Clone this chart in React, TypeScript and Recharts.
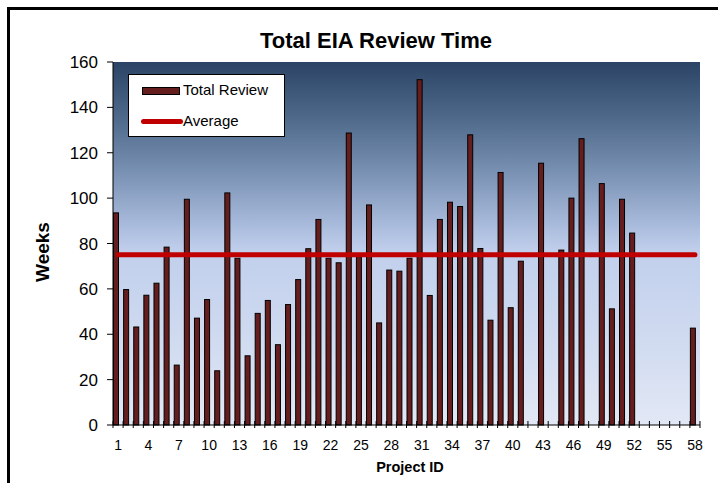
import React from 'react';
import { ComposedChart, Bar, Line, XAxis, YAxis, CartesianGrid } from 'recharts';

const PROJECT_IDS = [
  1, 2, 3, 4, 5, 6, 7, 8, 9, 10, 11, 12, 13, 14, 15, 16, 17, 18, 19, 20,
  21, 22, 23, 24, 25, 26, 27, 28, 29, 30, 31, 32, 33, 34, 35, 36, 37, 38, 39, 40,
  41, 42, 43, 44, 45, 46, 47, 48, 49, 50, 51, 52, 53, 54, 55, 56, 57, 58,
];

// weeks per project, null = no bar
const REVIEW_WEEKS = [
  93.5, 59.7, 43.2, 57.2, 62.5, 78.4, 26.4, 99.5, 47.1, 55.3,
  23.9, 102.3, 73.5, 30.5, 49.2, 54.9, 35.4, 53.1, 64.1, 77.7,
  90.6, 73.5, 71.5, 128.7, 74.2, 97, 45, 68.3, 67.8, 73.5,
  152.2, 57.1, 90.6, 98.2, 96.3, 127.9, 77.8, 46.2, 111.3, 51.7,
  72.2, null, 115.4, null, 77.1, 100, 126.2, null, 106.4, 51.2,
  99.5, 84.6, null, null, null, null, null, 42.7,
];

const AVERAGE_WEEKS = 75;

const Y_TICKS = [0, 20, 40, 60, 80, 100, 120, 140, 160];

const data = PROJECT_IDS.map((id, i) => ({
  id,
  review: REVIEW_WEEKS[i],
  avg: AVERAGE_WEEKS,
}));

const FONT = '"Liberation Sans", Arial, sans-serif';
const PLOT_LEFT = 113;
const PLOT_RIGHT = 700;
const BAND = (PLOT_RIGHT - PLOT_LEFT) / PROJECT_IDS.length;
const BAR_FILL = '#661d1d';
const AVG_COLOR = '#c00000';

const XTick = (props: any) => {
  const { x, y, index, payload } = props;
  const half = BAND / 2;
  return (
    <g>
      {index === 0 && <line x1={x - half} x2={x - half} y1={y - 4} y2={y + 3} stroke="#000" />}
      <line x1={x + half} x2={x + half} y1={y - 4} y2={y + 3} stroke="#000" />
      {index % 3 === 0 && (
        <text x={x} y={y + 25} textAnchor="middle" fontSize={14} fontFamily={FONT} fill="#000">
          {payload.value}
        </text>
      )}
    </g>
  );
};

const ReviewBar = (props: any) => {
  const { x, y, width, height } = props;
  if (!height || height <= 0) return null;
  return (
    <rect x={x - width / 2} y={y} width={width} height={height} fill={BAR_FILL} stroke="#000" strokeWidth={1} />
  );
};

const LegendBox = () => (
  <div
    style={{
      position: 'absolute',
      left: 128,
      top: 74,
      width: 157,
      height: 63,
      boxSizing: 'border-box',
      border: '1px solid #000',
      background: '#fff',
      fontFamily: FONT,
      fontSize: 15,
      color: '#000',
    }}
  >
    <div style={{ position: 'absolute', left: 13, top: 12, width: 38, height: 8, background: BAR_FILL, border: '1.5px solid #000', boxSizing: 'border-box' }} />
    <div style={{ position: 'absolute', left: 54, top: 6, lineHeight: '18px' }}>Total Review</div>
    <div style={{ position: 'absolute', left: 12, top: 44, width: 42, height: 5, borderRadius: 3, background: AVG_COLOR }} />
    <div style={{ position: 'absolute', left: 54, top: 37, lineHeight: '18px' }}>Average</div>
  </div>
);

export default function App() {
  return (
    <div style={{ position: 'absolute', left: 0, top: 0, width: 718, height: 483, background: '#fff', fontFamily: FONT }}>
      <div
        style={{
          position: 'absolute',
          left: 7,
          top: 7,
          width: 711,
          height: 476,
          boxSizing: 'border-box',
          borderLeft: '3px solid #000',
          borderTop: '3px solid #000',
        }}
      />
      <div style={{ position: 'absolute', left: 0, width: 752, top: 28, textAlign: 'center', fontSize: 22, fontWeight: 'bold', lineHeight: '26px' }}>
        Total EIA Review Time
      </div>
      <div style={{ position: 'absolute', left: 310, width: 200, top: 458, textAlign: 'center', fontSize: 14.5, fontWeight: 'bold', lineHeight: '18px' }}>
        Project ID
      </div>
      <div
        style={{
          position: 'absolute',
          left: 43,
          top: 252,
          fontSize: 19,
          fontWeight: 'bold',
          transform: 'translate(-50%, -50%) rotate(-90deg)',
          whiteSpace: 'nowrap',
        }}
      >
        Weeks
      </div>
      <div style={{ position: 'absolute', left: 0, top: 0 }}>
        <ComposedChart
          width={718}
          height={483}
          data={data}
          margin={{ top: 62, right: 718 - PLOT_RIGHT, bottom: 18, left: PLOT_LEFT - 60 }}
          barSize={5}
        >
          <defs>
            <linearGradient id="plotBg" x1="0" y1="0" x2="0" y2="1">
              <stop offset="0" stopColor="#2b4465" />
              <stop offset="0.15" stopColor="#4d6889" />
              <stop offset="0.3" stopColor="#7890b2" />
              <stop offset="0.45" stopColor="#a9bbdc" />
              <stop offset="0.52" stopColor="#c1cfec" />
              <stop offset="0.75" stopColor="#cfdaf0" />
              <stop offset="1" stopColor="#e2e8f5" />
            </linearGradient>
          </defs>
          <CartesianGrid horizontal={false} vertical={false} fill="url(#plotBg)" />
          <XAxis
            dataKey="id"
            interval={0}
            height={40}
            tickSize={0}
            tickMargin={0}
            tickLine={false}
            axisLine={{ stroke: '#000' }}
            tick={<XTick />}
          />
          <YAxis
            width={60}
            domain={[0, 160]}
            ticks={Y_TICKS}
            tickSize={6}
            tickMargin={9}
            axisLine={{ stroke: '#000' }}
            tickLine={{ stroke: '#000' }}
            tick={{ fill: '#000', fontSize: 17, fontFamily: FONT }}
          />
          <Bar dataKey="review" name="Total Review" shape={<ReviewBar />} isAnimationActive={false} />
          <Line
            dataKey="avg"
            name="Average"
            stroke={AVG_COLOR}
            strokeWidth={5}
            strokeLinecap="round"
            dot={false}
            activeDot={false}
            isAnimationActive={false}
          />
        </ComposedChart>
      </div>
      <LegendBox />
    </div>
  );
}
